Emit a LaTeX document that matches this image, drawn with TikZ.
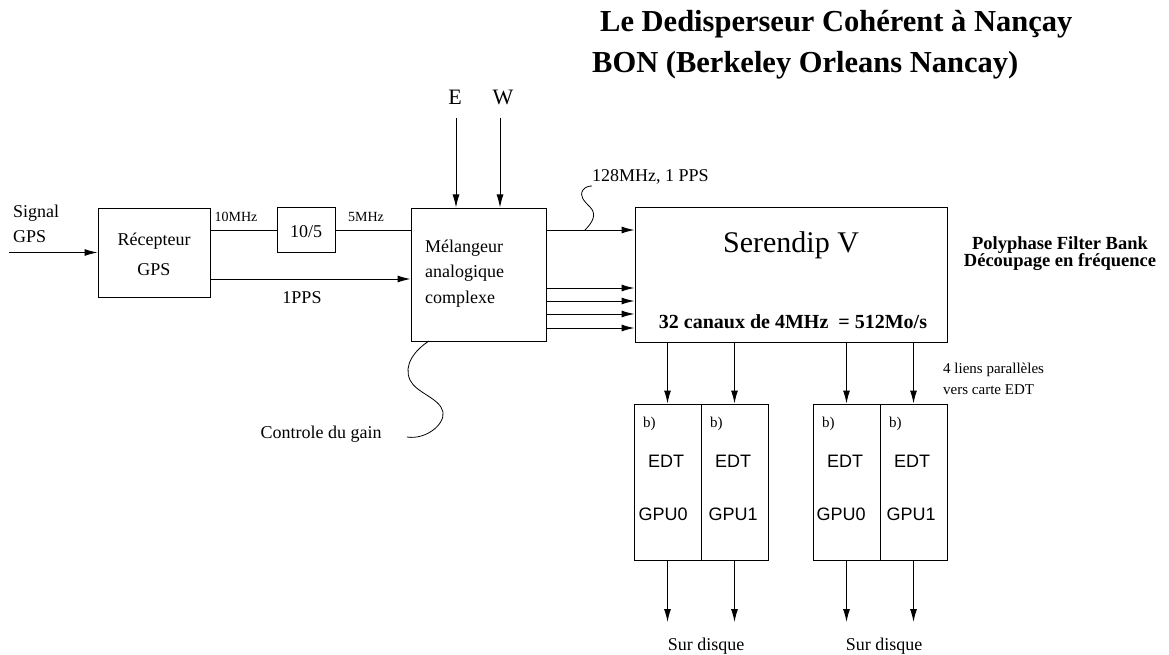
\documentclass[tikz,border=0pt]{standalone}
\usepackage{fontspec}
\setmainfont{Liberation Serif}
\newfontfamily\sansf{Liberation Sans}
\usetikzlibrary{arrows.meta}
\newcommand\myfs[1]{\fontsize{#1}{#1}\selectfont}
\tikzset{
  box/.style={draw, line width=1pt, inner sep=0pt},
  ln/.style={line width=1pt},
  arr/.style={line width=1pt, -{Latex[length=13pt,width=7pt]}},
  txt/.style={anchor=base, inner sep=0pt, font=\myfs{18}},
  txtl/.style={anchor=base west, inner sep=0pt, font=\myfs{18}},
  small/.style={font=\myfs{14}},
  tiny/.style={font=\myfs{15}},
  edt/.style={font=\sansf\myfs{18}},
}
\begin{document}
\begin{tikzpicture}[x=1pt,y=-1pt]
\useasboundingbox (0,0) rectangle (1169,655);

% title
\node[txtl, font=\bfseries\myfs{30.5}] (t1) at (600,32) {Le Dedisperseur Cohérent à Nançay};
\node[txtl, font=\bfseries\myfs{30.5}] (t2) at (592,73) {BON (Berkeley Orleans Nancay)};

% boxes
\node[box, minimum width=112pt, minimum height=89pt] (rec) at (154,252.5) {};
\node[box, minimum width=58pt, minimum height=45pt] (div) at (306,229.5) {};
\node[box, minimum width=135pt, minimum height=133pt] (mix) at (478.5,274.5) {};
\node[box, minimum width=312pt, minimum height=135pt] (ser) at (791,274.5) {};
\node[box, minimum width=67pt, minimum height=156pt] (a1) at (667.5,482) {};
\node[box, minimum width=67pt, minimum height=156pt] (a2) at (734.5,482) {};
\node[box, minimum width=67pt, minimum height=156pt] (b1) at (846.5,482) {};
\node[box, minimum width=67pt, minimum height=156pt] (b2) at (913.5,482) {};

% texts
\node[txtl] (sig1) at (13,218) {Signal};
\node[txtl] (sig2) at (13,242) {GPS};
\node[txt] (rect1) at (154,245) {Récepteur};
\node[txt] (rect2) at (154,275) {GPS};
\node[txt, small] (l10) at (236,221) {10MHz};
\node[txt] (divt) at (306,237) {10/5};
\node[txt, small] (l5) at (366,221) {5MHz};
\node[txt] (lpps) at (302,303) {1PPS};
\node[txtl] (mx1) at (425,252) {Mélangeur};
\node[txtl] (mx2) at (425,277) {analogique};
\node[txtl] (mx3) at (425,303) {complexe};
\node[txt, font=\myfs{22}] (lE) at (455,105) {E};
\node[txt, font=\myfs{22}] (lW) at (503,105) {W};
\node[txtl] (l128) at (592,182) {128MHz, 1 PPS};
\node[txt, font=\myfs{30}] (sert) at (791,252) {Serendip V};
\node[txt, font=\bfseries\myfs{20}] (sert2) at (793,328) {32 canaux de 4MHz\ \ = 512Mo/s};
\node[txt, font=\bfseries\myfs{18.5}] (pfb1) at (1060,249) {Polyphase Filter Bank};
\node[txt, font=\bfseries\myfs{18.5}] (pfb2) at (1060,266) {Découpage en fréquence};
\node[txtl, tiny] (lien1) at (943,373) {4 liens parallèles};
\node[txtl, tiny] (lien2) at (943,394) {vers carte EDT};
\node[txtl, tiny] (ba1) at (643,427) {b)};
\node[txtl, tiny] (ba2) at (710,427) {b)};
\node[txtl, tiny] (bb1) at (822,427) {b)};
\node[txtl, tiny] (bb2) at (889,427) {b)};
\node[txt, edt] (ea1) at (666,467) {EDT};
\node[txt, edt] (ea2) at (733,467) {EDT};
\node[txt, edt] (eb1) at (845,467) {EDT};
\node[txt, edt] (eb2) at (912,467) {EDT};
\node[txt, edt] (ga1) at (663,520) {GPU0};
\node[txt, edt] (ga2) at (733,520) {GPU1};
\node[txt, edt] (gb1) at (841,520) {GPU0};
\node[txt, edt] (gb2) at (911,520) {GPU1};
\node[txt] (sd1) at (706,650) {Sur disque};
\node[txt] (sd2) at (884,650) {Sur disque};
\node[txt] (gain) at (321,438) {Controle du gain};

% coordinates
\coordinate (in) at (9,252.5);
\coordinate (eT) at (456,118);
\coordinate (wT) at (500,118);
\coordinate (oa1) at (667.5,622);
\coordinate (oa2) at (734.5,622);
\coordinate (ob1) at (846.5,622);
\coordinate (ob2) at (913.5,622);
\coordinate (w1) at (585,230);
\coordinate (w2) at (592,186);
\coordinate (g1) at (429,341);
\coordinate (g2) at (407,437);

% connectors
\draw[arr] (in) -- (rec.west);
\draw[ln] (rec.east |- 0,230) -- (div.west |- 0,230);
\draw[ln] (div.east |- 0,230) -- (mix.west |- 0,230);
\draw[arr] (rec.east |- 0,279) -- (mix.west |- 0,279);
\draw[arr] (eT) -- (mix.north -| eT);
\draw[arr] (wT) -- (mix.north -| wT);
\draw[arr] (mix.east |- 0,230) -- (ser.west |- 0,230);
\foreach \yy in {288,301,314,328} {
  \draw[arr] (mix.east |- 0,\yy) -- (ser.west |- 0,\yy);
}
\draw[arr] (ser.south -| a1) -- (a1.north);
\draw[arr] (ser.south -| a2) -- (a2.north);
\draw[arr] (ser.south -| b1) -- (b1.north);
\draw[arr] (ser.south -| b2) -- (b2.north);
\draw[arr] (a1.south) -- (oa1);
\draw[arr] (a2.south) -- (oa2);
\draw[arr] (b1.south) -- (ob1);
\draw[arr] (b2.south) -- (ob2);

% wavy leaders
\draw[line width=0.8pt] (w1) .. controls (593,222) and (597,214) .. (590,207)
  .. controls (584,201) and (579,196) .. (583,190) .. controls (585,187) and (589,186) .. (w2);
\draw[line width=0.8pt] (g1) .. controls (415,350) and (403,365) .. (410,380)
  .. controls (416,393) and (440,398) .. (443,412) .. controls (445,425) and (425,440) .. (g2);
\end{tikzpicture}
\end{document}
